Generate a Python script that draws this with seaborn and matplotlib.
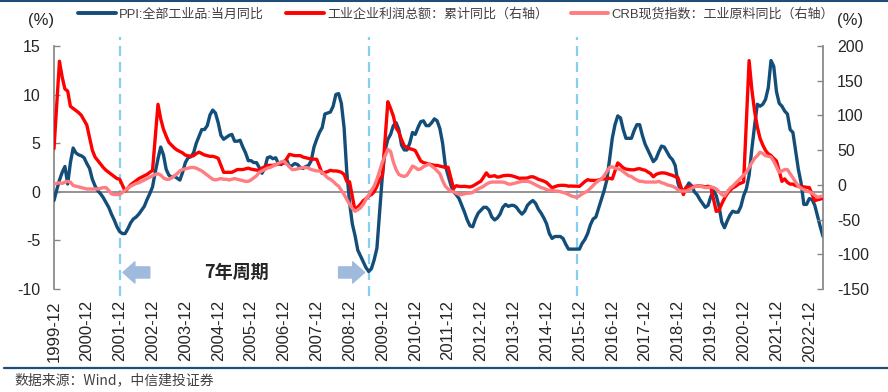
import numpy as np
import pandas as pd
import matplotlib
matplotlib.use('Agg')
import matplotlib.pyplot as plt
from matplotlib.lines import Line2D
import seaborn as sns

months = pd.period_range('1999-12', '2023-05', freq='M').strftime('%Y-%m')

# PPI: all industrial products, monthly yoy (%), left axis
ppi = [
    -0.9,
    0.2, 1.2, 2.0, 2.6, 0.8, 3.0, 4.5, 4.0, 3.8, 3.7, 3.5, 2.9,        # 2000
    2.4, 1.3, 0.6, 0.1, -0.2, -0.6, -1.1, -1.6, -2.3, -2.9, -3.6, -4.1,  # 2001
    -4.3, -4.3, -3.8, -3.2, -2.8, -2.6, -2.3, -1.9, -1.5, -0.8, -0.2, 0.5,  # 2002
    2.0, 3.4, 4.6, 3.8, 2.3, 1.7, 1.5, 1.6, 1.4, 1.2, 2.0, 3.0,        # 2003
    3.5, 3.6, 4.0, 5.0, 5.7, 6.4, 6.4, 6.8, 7.9, 8.4, 8.1, 7.1,        # 2004
    5.8, 5.4, 5.6, 5.8, 5.9, 5.2, 5.2, 5.3, 4.6, 4.0, 3.2, 3.2,        # 2005
    3.0, 3.0, 2.5, 1.9, 2.4, 3.5, 3.6, 3.4, 3.5, 2.9, 2.8, 3.1,        # 2006
    3.3, 2.6, 2.7, 2.9, 2.8, 2.5, 2.4, 2.6, 2.7, 3.2, 4.6, 5.4,        # 2007
    6.1, 6.6, 8.0, 8.1, 8.2, 8.8, 10.0, 10.1, 9.1, 6.6, 2.0, -1.1,     # 2008
    -3.3, -4.5, -6.0, -6.6, -7.2, -7.8, -8.2, -7.9, -7.0, -5.8, -2.1, 1.7,  # 2009
    4.3, 5.4, 5.9, 6.8, 7.1, 6.4, 4.8, 4.3, 4.3, 5.0, 6.1, 5.9,        # 2010
    6.6, 7.2, 7.3, 6.8, 6.8, 7.1, 7.5, 7.3, 6.5, 5.0, 2.7, 1.7,        # 2011
    0.7, 0.0, -0.3, -0.7, -1.4, -2.1, -2.9, -3.5, -3.6, -2.8, -2.2, -1.9,  # 2012
    -1.6, -1.6, -1.9, -2.6, -2.9, -2.7, -2.3, -1.6, -1.3, -1.5, -1.4, -1.4,  # 2013
    -1.6, -2.0, -2.3, -2.0, -1.4, -1.1, -0.9, -1.2, -1.8, -2.2, -2.7, -3.3,  # 2014
    -4.3, -4.8, -4.6, -4.6, -4.6, -4.8, -5.4, -5.9, -5.9, -5.9, -5.9, -5.9,  # 2015
    -5.3, -4.9, -4.3, -3.4, -2.8, -2.6, -1.7, -0.8, 0.1, 1.2, 3.3, 5.5,  # 2016
    6.9, 7.8, 7.6, 6.4, 5.5, 5.5, 5.5, 6.3, 6.9, 6.9, 5.8, 4.9,        # 2017
    4.3, 3.7, 3.1, 3.4, 4.1, 4.7, 4.6, 4.1, 3.6, 3.3, 2.7, 0.9,        # 2018
    0.1, 0.1, 0.4, 0.9, 0.6, 0.0, -0.3, -0.8, -1.2, -1.6, -1.4, -0.5,  # 2019
    0.1, -0.4, -1.5, -3.1, -3.7, -3.0, -2.4, -2.0, -2.1, -2.1, -1.5, -0.4,  # 2020
    0.3, 1.7, 4.4, 6.8, 9.0, 8.8, 9.0, 9.5, 10.7, 13.5, 12.9, 10.3,    # 2021
    9.1, 8.8, 8.3, 8.0, 6.4, 6.1, 4.2, 2.3, 0.9, -1.3, -1.3, -0.7,     # 2022
    -0.8, -1.4, -2.5, -3.6, -4.6,                                      # 2023
]

# industrial profits, cumulative yoy (%), right axis; no January release
nan = np.nan
profit = [
    52,
    nan, 178, 155, 138, 135, 113, 110, 107, 104, 100, 93, 86,          # 2000
    nan, 50, 40, 35, 30, 25, 21, 18, 15, 12, 9, 8,                     # 2001
    nan, -9, -5, 0, 3, 6, 9, 11, 13, 15, 18, 20.6,                     # 2002
    nan, 116, 95, 80, 70, 61, 57, 53, 50, 48, 46, 42.7,                # 2003
    nan, 41, 42, 45, 47, 45, 43, 42, 41, 41, 40, 38.1,                 # 2004
    nan, 18, 18, 18, 18, 20, 22, 22, 22, 23, 24, 22.6,                 # 2005
    nan, 21.2, 21, 24, 26, 28, 28, 28, 29, 30, 31, 31.0,               # 2006
    nan, 43.8, 43, 42, 42, 42, 40, 39, 38, 37, 37, 36.7,               # 2007
    nan, 16.5, 18, 19, 20.9, 20, 20, 19.4, 18, 15, 4.9, 4.4,           # 2008
    nan, -37.3, -32, -28, -22.9, -20, -16, -14, -10, -2, 7.8, 13.0,    # 2009
    nan, 119.7, 110, 99, 82, 76, 65, 56, 54, 52, 51, 49.4,             # 2010
    nan, 34.3, 32, 31, 30, 29, 28, 28, 27, 26, 25, 25.4,               # 2011
    nan, -5.2, -1.3, -2.2, -2.4, -2.2, -2.7, -3.1, -1.8, 0.5, 3.0, 5.3,  # 2012
    nan, 17.2, 12.1, 12.4, 13.2, 11.1, 11.6, 13.0, 13.5, 13.7, 13.2, 12.2,  # 2013
    nan, 9.4, 9.6, 9.6, 9.8, 11.4, 11.6, 10.0, 7.9, 6.7, 5.3, 3.3,     # 2014
    nan, -4.2, -2.7, -1.3, -0.8, -0.7, -1.0, -1.9, -1.7, -2.0, -1.9, -2.3,  # 2015
    nan, 4.8, 7.4, 6.5, 6.4, 6.2, 6.9, 8.4, 8.4, 8.6, 9.4, 8.5,        # 2016
    nan, 31.5, 28.3, 24.4, 22.7, 22.0, 21.6, 21.6, 22.8, 23.3, 21.9, 21.0,  # 2017
    nan, 16.1, 11.6, 15.0, 16.5, 17.2, 17.1, 16.2, 14.7, 13.6, 11.8, 10.3,  # 2018
    nan, -14.0, -3.3, -3.4, -2.3, -2.4, -1.7, -1.7, -2.1, -2.9, -2.1, -3.3,  # 2019
    nan, -38.3, -36.7, -27.4, -19.3, -12.8, -8.1, -4.4, -2.4, 0.7, 2.4, 4.1,  # 2020
    nan, 178.9, 137.3, 106.0, 83.4, 66.9, 57.3, 49.5, 44.7, 42.2, 38.0, 34.3,  # 2021
    nan, 5.0, 8.5, 3.5, 1.0, 1.0, -1.1, -2.1, -2.3, -3.0, -3.6, -4.0,  # 2022
    nan, -22.9, -21.4, -20.6, -18.8,                                   # 2023
]

# CRB spot index: raw industrials yoy (%), right axis
crb = [
    1,
    2, 3, 2, 4, 5, 4, -1, -2, -3, -4, -5, -6,                          # 2000
    -6, -6, -6, -6, -5, -4, -4, -8, -13, -14, -14, -14,                # 2001
    -11, -8, -5, -2, 0, 2, 3, 5, 7, 9, 11, 13,                         # 2002
    15, 16, 14, 10, 8, 8, 10, 13, 16, 20, 22, 23,                      # 2003
    24, 25, 25, 24, 22, 20, 17, 14, 11, 8, 7, 8,                       # 2004
    9, 8, 8, 7, 8, 9, 8, 7, 6, 5, 5, 7,                                # 2005
    10, 13, 18, 20, 22, 24, 25, 27, 29, 31, 33, 34,                    # 2006
    30, 26, 22, 22, 23, 24, 25, 25, 24, 22, 21, 20,                    # 2007
    20, 18, 14, 10, 8, 5, 1, -2, -8, -14, -21, -28,                    # 2008
    -34, -38, -36, -33, -28, -21, -15, -8, -2, 8, 20, 33,              # 2009
    42, 51, 48, 33, 22, 15, 13, 12, 14, 20, 27, 25,                    # 2010
    22, 23, 26, 28, 30, 27, 24, 20, 16, 6, -2, -6,                     # 2011
    -9, -10, -12, -14, -14, -13, -12, -12, -11, -8, -6, -4,            # 2012
    -2, 1, 3, 4, 4, 4, 4, 4, 3, 1, 1, 2,                               # 2013
    3, 4, 5, 5, 5, 4, 2, 0, -2, -4, -5, -7,                            # 2014
    -8, -8, -9, -9, -10, -11, -12, -14, -16, -17, -18, -16,            # 2015
    -13, -11, -9, -5, -1, 3, 6, 8, 13, 19, 25, 26,                     # 2016
    24, 23, 22, 19, 16, 13, 12, 9, 7, 5, 5, 4,                         # 2017
    4, 4, 4, 4, 5, 3, 2, 0, -1, -2, -4, -7,                            # 2018
    -9, -9, -9, -7, -5, -3, -2, -2, -3, -4, -4, -3,                    # 2019
    -4, -6, -10, -14, -16, -10, -5, -2, 2, 6, 10, 14,                  # 2020
    18, 25, 32, 38, 42, 47, 45, 42, 41, 40, 34, 26,                    # 2021
    18, 20, 22, 22, 16, 10, 4, -2, -5, -7, -9, -10,                    # 2022
    -12, -15, -18, -17, -16,                                           # 2023
]

cycle_marks = ['2001-12', '2009-07', '2015-11']
labels = ['PPI:全部工业品:当月同比', '工业企业利润总额：累计同比（右轴）',
          'CRB现货指数：工业原料同比（右轴）']

df = pd.DataFrame({'month': months, 'ppi': ppi, 'profit': profit, 'crb': crb})
df['pos'] = np.arange(len(df))

blue = '#134E7A'
red = '#FF0000'
pink = '#FF7C80'
gray = '#868686'
txt = '#262626'
cjk = ['Noto Sans CJK SC', 'DejaVu Sans']

sns.set_theme(style='white')
plt.rcParams['font.family'] = ['Liberation Sans', 'Noto Sans CJK SC', 'DejaVu Sans']
plt.rcParams['axes.unicode_minus'] = False

fig = plt.figure(figsize=(8.88, 3.92), dpi=100)
ax = fig.add_axes([0.0608, 0.2628, 0.866, 0.62])
ax2 = ax.twinx()

# cycle markers
pos_of = dict(zip(df['month'], df['pos']))
for m in cycle_marks:
    ax.axvline(pos_of[m], ymin=-0.03, ymax=1.035, clip_on=False, color='#86CFF2',
               lw=1.6, ls=(0, (4.5, 2.7)), zorder=1)

sns.lineplot(data=df, x='pos', y='ppi', ax=ax, color=blue, linewidth=2.4,
             legend=False, estimator=None, zorder=3)
sns.lineplot(data=df.dropna(subset=['profit']), x='pos', y='profit', ax=ax2,
             color=red, linewidth=2.4, legend=False, estimator=None, zorder=3)
sns.lineplot(data=df, x='pos', y='crb', ax=ax2, color=pink, linewidth=2.4,
             legend=False, estimator=None, zorder=4)

ax.set_xlim(0, len(df) - 1)
ax.set_ylim(-10, 15)
ax2.set_ylim(-150, 200)
ax.set_yticks(range(-10, 16, 5))
ax2.set_yticks(range(-150, 201, 50))
ax.set_xlabel('')
ax.set_ylabel('')
ax2.set_ylabel('')

for s in ['top', 'right']:
    ax.spines[s].set_visible(False)
for s in ['top', 'bottom', 'left']:
    ax2.spines[s].set_visible(False)
ax.spines['left'].set_color(gray)
ax2.spines['right'].set_color(gray)
ax.spines['bottom'].set_position(('data', 0))
ax.spines['bottom'].set_color(gray)
ax.spines['bottom'].set_zorder(2)

tick_pos = df.loc[df['month'].str.endswith('-12'), 'pos'].tolist()
tick_lab = df.loc[df['month'].str.endswith('-12'), 'month'].tolist()
ax.set_xticks(tick_pos)
ax.tick_params(axis='x', direction='out', length=4, width=1, color=gray,
               labelbottom=False)
ax.tick_params(axis='y', direction='in', length=4, width=1, color=gray,
               labelsize=11.5, labelcolor=txt, pad=10, left=True)
ax2.tick_params(axis='y', direction='in', length=4, width=1, color=gray,
                labelsize=11.5, labelcolor=txt, pad=10, right=True)

sec = ax.secondary_xaxis(0)
sec.set_xticks(tick_pos, labels=tick_lab)
sec.tick_params(length=0, pad=8, rotation=90, labelsize=12, labelcolor=txt)
sec.spines['bottom'].set_visible(False)

# units
fig.text(41 / 888, 1 - 21 / 392, '(%)', ha='center', va='center', fontsize=12, color=txt)
fig.text(850 / 888, 1 - 21 / 392, '(%)', ha='center', va='center', fontsize=12, color=txt)

# cycle annotation
y_arrow = -8.3
arrow = dict(arrowstyle='simple,head_length=0.43,head_width=0.76,tail_width=0.4',
             mutation_scale=20, color='#A0BADD', shrinkA=0, shrinkB=0)
p0, p1 = pos_of[cycle_marks[0]], pos_of[cycle_marks[1]]
ax.annotate('', xy=(p0 + 1.2, y_arrow), xytext=(p0 + 11, y_arrow), arrowprops=arrow)
ax.annotate('', xy=(p1 - 1.5, y_arrow), xytext=(p1 - 11, y_arrow), arrowprops=arrow)
ax.text(66.5, y_arrow, '7年周期', ha='center', va='center', fontsize=13,
        fontweight='bold', color='#262626', family=cjk)

handles = [Line2D([], [], color=c, lw=2.8) for c in [blue, red, pink]]
leg = fig.legend(handles, labels, loc='center left', bbox_to_anchor=(78 / 888, 1 - 14 / 392),
                 ncol=3, frameon=False, handlelength=2.9, handletextpad=0.25,
                 columnspacing=1.7, fontsize=9.4, borderaxespad=0, borderpad=0)
for t in leg.get_texts():
    t.set_color('#404040')

# frame lines and source
fig.add_artist(Line2D([0, 1], [1 - 1 / 392] * 2, transform=fig.transFigure,
                      color='#1F4E79', lw=1.5))
fig.add_artist(Line2D([0.004, 1], [1 - 368 / 392] * 2, transform=fig.transFigure,
                      color='#1F4E79', lw=1.6))
fig.text(14 / 888, 1 - 380 / 392, '数据来源：Wind，中信建投证券', ha='left', va='center',
         fontsize=10, color='#404040', family=cjk, style='italic')

fig.savefig('out.png', dpi=100)
